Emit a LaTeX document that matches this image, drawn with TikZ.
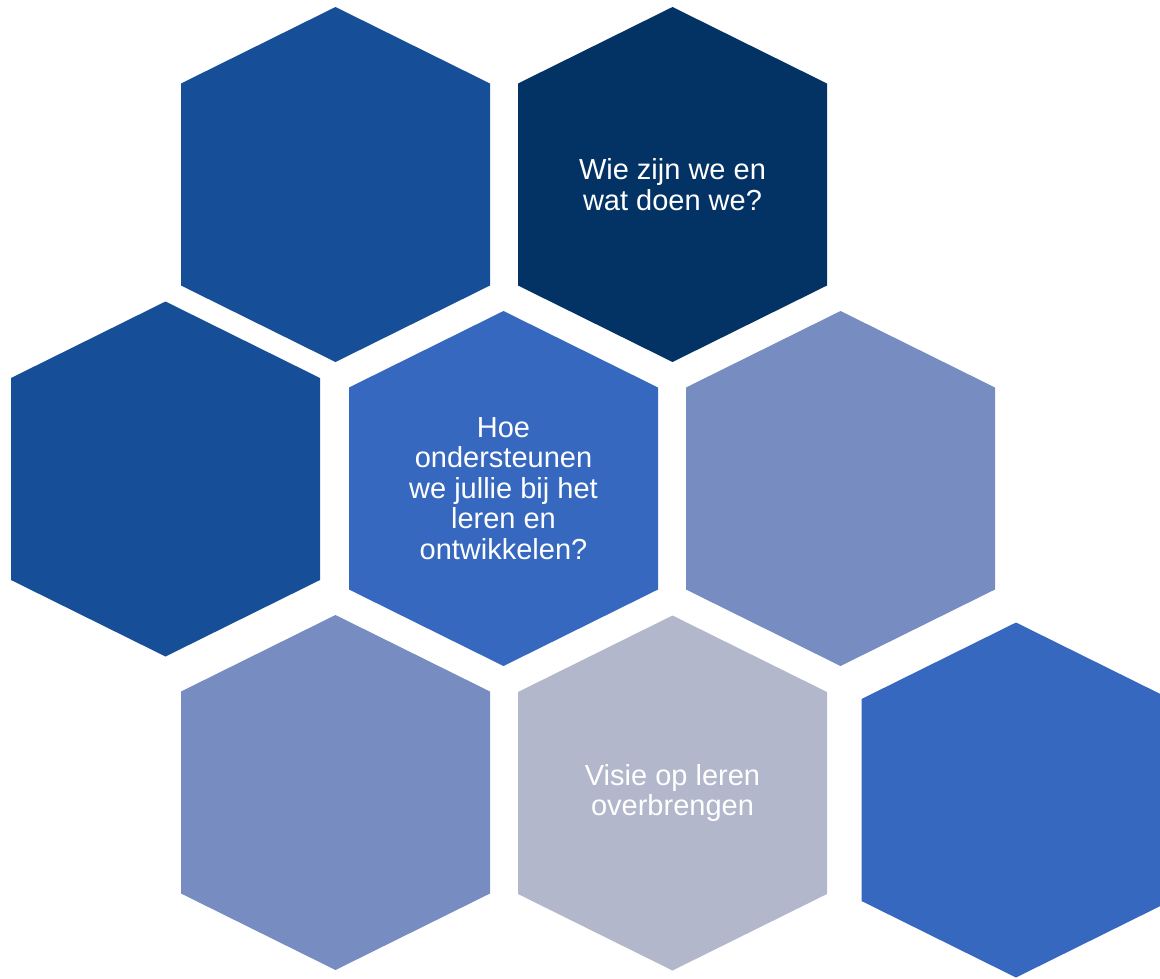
\documentclass[tikz,border=0pt]{standalone}
\usepackage{fontspec}
\setmainfont{Liberation Sans}
\definecolor{kobalt}{HTML}{164F97}
\definecolor{marine}{HTML}{033264}
\definecolor{helder}{HTML}{3568BE}
\definecolor{licht}{HTML}{778DC1}
\definecolor{grijs}{HTML}{B2B7CB}

\begin{document}
\begin{tikzpicture}[x=1pt, y=-1pt,
	pics/zeshoek/.style={code={
		\fill[#1] (0,-177.5) -- (154.5,-101) -- (154.5,101) -- (0,177.5)
			-- (-154.5,101) -- (-154.5,-101) -- cycle;}},
	tekst/.style={text=white, align=center, font=\fontsize{29}{30.5}\selectfont}]
	\useasboundingbox (0,0) rectangle (1160,978);
	\clip (0,0) rectangle (1160,978);
	
	\pic (h1) at (335.5,184.5) {zeshoek=kobalt};
	\pic (h2) at (672.5,184.5) {zeshoek=marine};
	\pic (h3) at (165.5,479) {zeshoek=kobalt};
	\pic (h4) at (503.5,488.5) {zeshoek=helder};
	\pic (h5) at (840.5,488.5) {zeshoek=licht};
	\pic (h6) at (335.5,792.5) {zeshoek=licht};
	\pic (h7) at (672.5,793) {zeshoek=grijs};
	\pic (h8) at (1016,800) {zeshoek=helder};
	
	\node[tekst] (wie) at (672.5,184.5) {Wie zijn we en\\wat doen we?};
	\node[tekst] (hoe) at (503.5,488.5) {Hoe\\ondersteunen\\we jullie bij het\\leren en\\ontwikkelen?};
	\node[tekst] (visie) at (672.5,793) {Visie op leren\\overbrengen};
	
\end{tikzpicture}
\end{document}
